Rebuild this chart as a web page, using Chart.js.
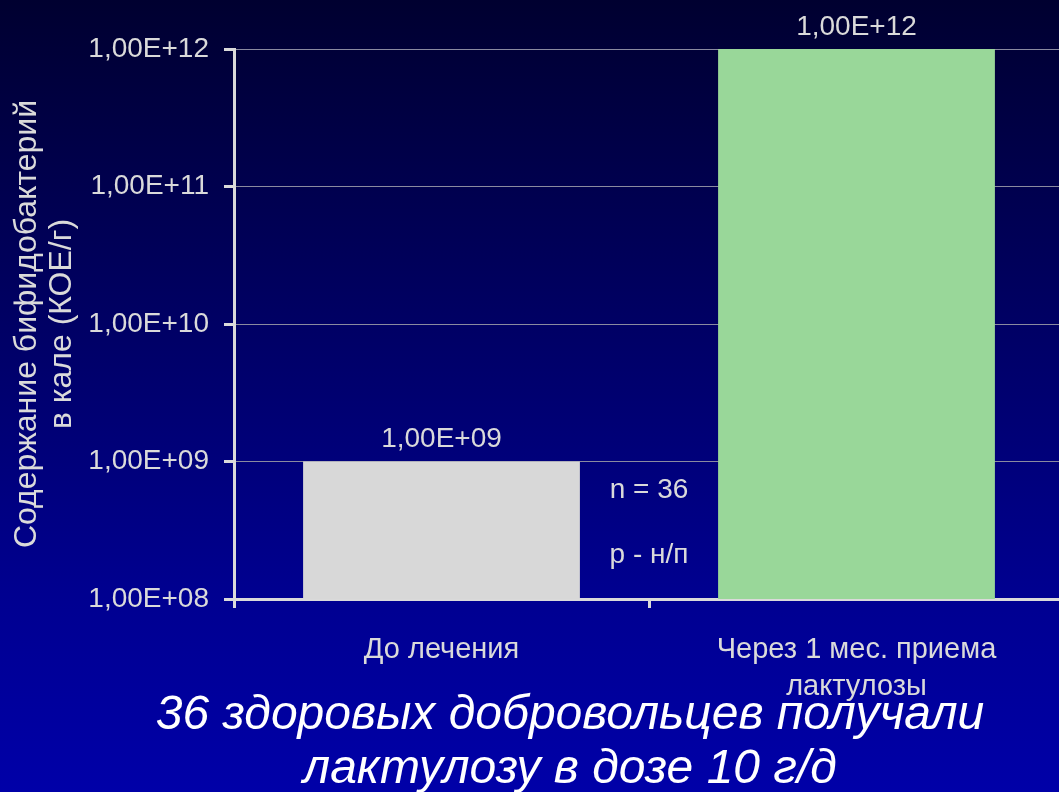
<!DOCTYPE html>
<html>
<head>
  <meta charset="utf-8" />
  <script src="https://cdn.jsdelivr.net/npm/chart.js@4.4.0/dist/chart.umd.min.js"></script>
  <style>
    html, body { margin:0; padding:0; overflow:hidden; width:1059px; height:792px; }
    body { background:linear-gradient(to bottom, #000030 0%, #000090 75%, #0000a8 100%); }
    #holder { position:relative; width:1070px; height:792px; }
    canvas { background:transparent; }
  </style>
</head>
<body>
  <div id="holder"><canvas id="chart"></canvas></div>

<script>
// data
const categories = [["До лечения"], ["Через 1 мес. приема", "лактулозы"]];
const values = [1e9, 1e12];
const barColors = ["#d8d8d8", "#99d799"];
const yTicks = [1e8, 1e9, 1e10, 1e11, 1e12];
const yTitle = ["Содержание бифидобактерий", "в кале (КОЕ/г)"];
const notes = ["n = 36", "p - н/п"];
const caption = ["36 здоровых добровольцев получали", "лактулозу в дозе 10 г/д"];

const FONT = "'Liberation Sans', Arial, sans-serif";
const LIGHT = "#dadada";

function sciLabel(v) {
  const e = Math.round(Math.log10(v));
  return "1,00E+" + (e < 10 ? "0" + e : e);
}

const extras = {
  id: "extras",
  afterDraw(chart) {
    const ctx = chart.ctx;
    const area = chart.chartArea;
    const meta = chart.getDatasetMeta(0);
    ctx.save();
    ctx.fillStyle = LIGHT;
    ctx.font = "28px " + FONT;
    ctx.textAlign = "center";
    ctx.textBaseline = "middle";
    // value labels above bars
    meta.data.forEach((bar, i) => {
      ctx.fillText(sciLabel(values[i]), bar.x, bar.y - 22);
    });
    // n / p notes between the bars
    const midX = (meta.data[0].x + meta.data[1].x) / 2;
    ctx.fillText(notes[0], midX, 490);
    ctx.fillText(notes[1], midX, 555);
    // y title, rotated
    ctx.save();
    ctx.translate(0, (area.top + area.bottom) / 2);
    ctx.rotate(-Math.PI / 2);
    ctx.font = "32px " + FONT;
    ctx.fillText(yTitle[0], 0, 27);
    ctx.fillText(yTitle[1], 0, 62);
    ctx.restore();
    // caption
    ctx.fillStyle = "#ffffff";
    ctx.font = "italic 48px " + FONT;
    ctx.fillText(caption[0], 570, 716);
    ctx.fillText(caption[1], 570, 770);
    ctx.restore();
  }
};

new Chart(document.getElementById("chart"), {
  type: "bar",
  data: {
    labels: categories,
    datasets: [{
      data: values,
      backgroundColor: barColors,
      borderWidth: 0,
      barPercentage: 0.667,
      categoryPercentage: 1
    }]
  },
  options: {
    responsive: true,
    maintainAspectRatio: false,
    animation: false,
    layout: { padding: { top: 49, right: 6, left: 0, bottom: 0 } },
    plugins: { legend: { display: false }, tooltip: { enabled: false } },
    scales: {
      x: {
        offset: true,
        afterFit: s => { s.height = 193; },
        grid: { offset: true, drawOnChartArea: false, tickLength: 9, tickColor: LIGHT, tickWidth: 3 },
        border: { color: LIGHT, width: 3 },
        ticks: { color: LIGHT, padding: 23, maxRotation: 0, autoSkip: false,
                 font: { family: FONT, size: 29, lineHeight: 1.28 } }
      },
      y: {
        type: "logarithmic",
        min: yTicks[0],
        max: yTicks[yTicks.length - 1],
        afterFit: s => { s.width = 234; },
        afterBuildTicks: s => { s.ticks = yTicks.map(v => ({ value: v })); },
        grid: { color: "#8a8aa0", lineWidth: 1, tickLength: 10, tickColor: LIGHT, tickWidth: 3 },
        border: { color: LIGHT, width: 3 },
        ticks: { color: LIGHT, padding: 15, callback: v => sciLabel(v),
                 font: { family: FONT, size: 28 } }
      }
    }
  },
  plugins: [extras]
});
</script>
</body>
</html>
